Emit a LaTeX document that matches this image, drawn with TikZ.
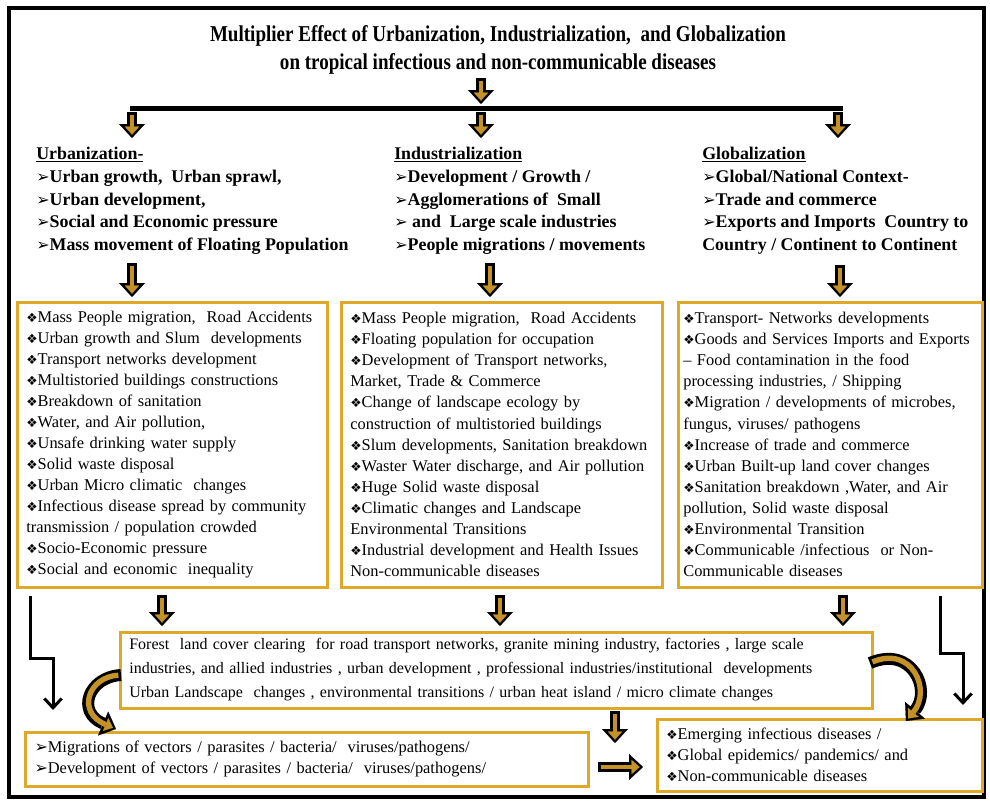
\documentclass[tikz,border=0pt]{standalone}
\usepackage{fontspec}
\setmainfont{Liberation Serif}
\newfontfamily\symfont{DejaVu Sans}
\newfontfamily\titlefont[FakeStretch=0.84]{Liberation Serif}
\usetikzlibrary{arrows.meta}
\hyphenpenalty=10000

\definecolor{boxgold}{RGB}{222,168,40}
\definecolor{arrowgold}{RGB}{196,146,38}

% bullets as in the slide
\newcommand{\dia}{{\symfont\fontsize{9.5}{9}\selectfont ❖}}
\newcommand{\arr}{{\symfont\fontsize{12}{9}\selectfont ➢}}

\tikzset{
  goldbox/.style={draw=boxgold, line width=2.25pt, fill=white, inner xsep=7pt, inner ysep=3pt, align=left},
  boxtext/.style={font=\fontsize{12.3}{15.8}\selectfont},
  headtext/.style={anchor=north west, inner sep=0.75pt, align=left, font=\bfseries\fontsize{13.4}{17}\selectfont},
  arrowout/.style={draw=black, line width=8pt, -{Triangle[length=10.5pt,width=19.5pt,line width=0.1pt]}},
  arrowin/.style={draw=arrowgold, line width=3pt, shorten <=2pt, shorten >=2.5pt, -{Triangle[length=6pt,width=10.5pt,line width=0.1pt]}},
  curveout/.style={draw=black, line width=9pt, -{Triangle[length=10.5pt,width=19.5pt,line width=0.1pt]}},
  curvein/.style={draw=arrowgold, line width=4pt, shorten <=2pt, shorten >=2.5pt, -{Triangle[length=6pt,width=10.5pt,line width=0.1pt]}},
  lline/.style={draw=black, line width=2.25pt, -{Straight Barb[length=7pt,width=13pt]}}
}

\begin{document}
\begin{tikzpicture}[x=0.75pt,y=0.75pt,yscale=-1,xscale=1]
\useasboundingbox (0,0) rectangle (990,801);
% frame
\draw[line width=3pt] (9,8) rectangle (984,797);

% Title
\node[inner sep=0.75pt, align=center, font=\titlefont\bfseries\fontsize{17}{21}\selectfont] (title) at (498,50)
  {Multiplier Effect of Urbanization, Industrialization,\ \ and Globalization\\
   on tropical infectious and non-communicable diseases};

% the three heads
\node[headtext] (urbhead) at (35,146) {\underline{Urbanization-}\\
  \arr Urban growth,\ \ Urban sprawl,\\
  \arr Urban development,\\
  \arr Social and Economic pressure\\
  \arr Mass movement of Floating Population};
\node[headtext] (indhead) at (393,146) {\underline{Industrialization}\\
  \arr Development / Growth /\\
  \arr Agglomerations of\ \ Small\\
  \arr\ and\ \ Large scale industries\\
  \arr People migrations / movements};
\node[headtext] (globhead) at (701,146) {\underline{Globalization}\\
  \arr Global/National Context-\\
  \arr Trade and commerce\\
  \arr Exports and Imports\ \ Country to\\
  Country / Continent to Continent};

% boxes
\node[goldbox, boxtext, minimum width=232.5pt, minimum height=213.75pt, text width=218.5pt] (urbbox) at (172,444.5)
  {\dia Mass People migration,\ \ Road Accidents\\
   \dia Urban growth and Slum\ \ developments\\
   \dia Transport networks development\\
   \dia Multistoried buildings constructions\\
   \dia Breakdown of sanitation\\
   \dia Water, and Air pollution,\\
   \dia Unsafe drinking water supply\\
   \dia Solid waste disposal\\
   \dia Urban Micro climatic\ \ changes\\
   \dia Infectious disease spread by community\\
   transmission / population crowded\\
   \dia Socio-Economic pressure\\
   \dia Social and economic\ \ inequality};
\node[goldbox, boxtext, minimum width=240.75pt, minimum height=213.75pt, text width=226.75pt] (indbox) at (501.5,444.5)
  {\dia Mass People migration,\ \ Road Accidents\\
   \dia Floating population for occupation\\
   \dia Development of Transport networks,\\
   Market, Trade \& Commerce\\
   \dia Change of landscape ecology by\\
   construction of multistoried buildings\\
   \dia Slum developments, Sanitation breakdown\\
   \dia Waster Water discharge, and Air pollution\\
   \dia Huge Solid waste disposal\\
   \dia Climatic changes and Landscape\\
   Environmental Transitions\\
   \dia Industrial development and Health Issues\\
   Non-communicable diseases};
\node[goldbox, boxtext, inner xsep=4pt, minimum width=228pt, minimum height=213.75pt, text width=220pt] (globbox) at (830,444.5)
  {\dia Transport- Networks developments\\
   \dia Goods and Services Imports and Exports\\
   -- Food contamination in the food\\
   processing industries, / Shipping\\
   \dia Migration / developments of microbes,\\
   fungus, viruses/ pathogens\\
   \dia Increase of trade and commerce\\
   \dia Urban Built-up land cover changes\\
   \dia Sanitation breakdown ,Water, and Air\\
   pollution, Solid waste disposal\\
   \dia Environmental Transition\\
   \dia Communicable /infectious\ \ or Non-\\
   Communicable diseases};

% common outcome box
\node[goldbox, font=\fontsize{12}{18}\selectfont, minimum width=564pt, minimum height=57pt, text width=550pt] (landbox) at (496,670)
  {Forest\ \ land cover clearing\ \ for road transport networks, granite mining industry, factories , large scale\\
   industries, and allied industries , urban development , professional industries/institutional\ \ developments\\
   Urban Landscape\ \ changes , environmental transitions / urban heat island / micro climate changes};

\node[goldbox, boxtext, minimum width=422.25pt, minimum height=40.5pt, text width=408pt] (vecbox) at (306.5,759)
  {\arr Migrations of vectors / parasites / bacteria/\ \ viruses/pathogens/\\
   \arr Development of vectors / parasites / bacteria/\ \ viruses/pathogens/};
\node[goldbox, boxtext, minimum width=243.75pt, minimum height=54pt, text width=229.75pt] (disbox) at (819.5,755)
  {\dia Emerging infectious diseases /\\
   \dia Global epidemics/ pandemics/ and\\
   \dia Non-communicable diseases};

% arrow ends
\foreach \n/\x/\y in {t0/481/78, t1/481/104, b0/130/108, b1/843/108,
    u0/132/112, u1/132/138, i0/481/112, i1/481/138, g0/838/112, g1/838/138,
    u2/132/263, u3/132/297, i2/490/263, i3/490/297, g2/840/265, g3/840/297,
    u4/162/595, u5/162/626, i4/500/595, i5/500/626, g4/843/595, g5/843/626,
    m0/615/711, m1/615/743, r0/598/767, r1/643/767,
    cl0/121/675, cr0/870/663, cl1/116/729, cr1/906/721,
    ll0/30/596, ll1/53/710, rl0/940/596, rl1/963/705}
  \coordinate (\n) at (\x,\y);

% bar
\draw[line width=3.75pt] (b0) -- (b1);
% block arrows
\foreach \s/\e in {t0/t1, u0/u1, i0/i1, g0/g1, u2/u3, i2/i3, g2/g3, u4/u5, i4/i5, g4/g5, m0/m1, r0/r1}{
  \draw[arrowout] (\s) -- (\e);
  \draw[arrowin] (\s) -- (\e);
}
% curved arrows
\draw[curveout] (cl0) .. controls (88,677) and (76,712) .. (cl1);
\draw[curvein] (cl0) .. controls (88,677) and (76,712) .. (cl1);
\draw[curveout] (cr0) .. controls (912,645) and (932,690) .. (cr1);
\draw[curvein] (cr0) .. controls (912,645) and (932,690) .. (cr1);
% thin L arrows
\draw[lline] (ll0) |- (ll1 |- 0,658) -- (ll1);
\draw[lline] (rl0) |- (rl1 |- 0,653) -- (rl1);

\end{tikzpicture}
\end{document}
